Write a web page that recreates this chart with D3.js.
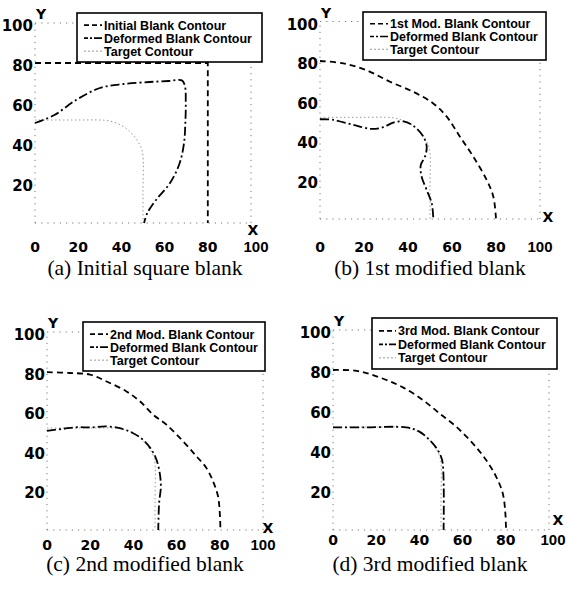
<!DOCTYPE html>
<html><head><meta charset="utf-8">
<script src="https://cdn.jsdelivr.net/npm/d3@7"></script>
<style>body{margin:0;background:#fff}svg{display:block}</style>
</head><body>
<svg id="chart" width="566" height="590"></svg>
<script>
// ---------- data ----------
const xTicks = [0, 20, 40, 60, 80, 100];
const yTicks = [20, 40, 60, 80, 100];

const targetX = [0, 10, 20, 30, 34, 38, 42, 45, 47.5, 49.2, 50, 50, 50];
const targetY = [51.5, 51.5, 51.5, 51.5, 51.1, 49.8, 47.5, 44.5, 41, 37.5, 33.5, 15, 0];

// (a) initial square blank
const blankAX = [0, 80, 80];
const blankAY = [80, 80, 0];
const defAX = [0, 9, 19, 30, 41, 53, 62, 68, 69.4, 69.8, 69.6, 69, 67, 62.5, 56, 52, 50.5];
const defAY = [50, 54, 61.5, 67.5, 69.5, 70.5, 71, 71.3, 68.5, 60, 50, 40, 30, 20, 11.5, 5, 0];

// (b) 1st modified blank
const blankBX = [0, 10.6, 21, 31.8, 42.4, 51.5, 57.6, 63.6, 69.7, 75.8, 78.8, 80];
const blankBY = [80, 78.8, 75.4, 69.5, 64.4, 58.5, 51.8, 41.7, 31.5, 19.7, 11.3, 0];
const defBX = [0, 6, 15, 23.5, 28.8, 33.3, 37.9, 42.4, 47, 48.5, 47.7, 45.8, 46.2, 48.5, 50.8, 51.5];
const defBY = [50.5, 50.2, 47.7, 45.6, 46.5, 48.8, 49.4, 47.2, 41.7, 36.6, 31.5, 27.3, 21.4, 14.7, 7.9, 0];

// (c) 2nd modified blank
const blankCX = [0, 10.6, 19.9, 27.6, 36.8, 43, 49.2, 55.3, 63, 69.2, 73.8, 76.9, 79.2, 80, 80.3];
const blankCY = [79.7, 79.3, 78.5, 75, 70, 65, 58.2, 53.2, 44.8, 37.2, 31.3, 24.5, 16.9, 8.4, 0];
const defCX = [0, 7.5, 13.7, 19.9, 27.6, 33.7, 39.9, 44.5, 48.4, 50.7, 52.2, 52.7, 51.9, 51.5];
const defCY = [50.1, 51.1, 51.9, 51.8, 52.3, 51.4, 48.9, 45.5, 40.5, 35.4, 28.7, 21.9, 13.5, 0];

// (d) 3rd modified blank
const blankDX = [0, 10, 17, 24.7, 32.4, 41.6, 49.3, 57, 64.7, 70.9, 75.5, 78.6, 79.8, 80.1];
const blankDY = [80, 79.7, 78, 75, 71.3, 65, 58.3, 51.7, 43.3, 35, 26.7, 18.3, 8.3, 0];
const defDX = [0, 15.4, 33.9, 40, 44.7, 48.5, 50.5, 51.2, 51.2];
const defDY = [51.3, 51.3, 51.3, 49.2, 45, 40, 35, 25, 0];

const legendA = ["Initial Blank Contour", "Deformed Blank Contour", "Target Contour"];
const legendB = ["1st Mod. Blank Contour", "Deformed Blank Contour", "Target Contour"];
const legendC = ["2nd Mod. Blank Contour", "Deformed Blank Contour", "Target Contour"];
const legendD = ["3rd Mod. Blank Contour", "Deformed Blank Contour", "Target Contour"];
const captions = ["(a) Initial square blank", "(b) 1st modified blank", "(c) 2nd modified blank", "(d) 3rd modified blank"];

// ---------- layout ----------
const panels = [
  {x0: 35, x1: 251, y0: 223, y1: 23, xlab: 29, hx: 5, X: {dx: 2, dy: 12},
   legend: {l: 77, t: 13, r: 262, b: 62, tx: 104},
   cap: {x: 145, y: 275}, blank: [blankAX, blankAY], def: [defAX, defAY], leg: legendA, cap_t: captions[0], straight: true},
  {x0: 320, x1: 540, y0: 219, y1: 21.5, xlab: 33, hx: 0, X: {dx: 8, dy: 3},
   legend: {l: 363, t: 12, r: 546, b: 60, tx: 390},
   cap: {x: 430, y: 275}, blank: [blankBX, blankBY], def: [defBX, defBY], leg: legendB, cap_t: captions[1]},
  {x0: 47, x1: 263, y0: 530, y1: 332, xlab: 20, hx: 0, X: {dx: 5, dy: 3},
   legend: {l: 83, t: 322, r: 265, b: 371, tx: 110},
   cap: {x: 145, y: 571}, blank: [blankCX, blankCY], def: [defCX, defCY], leg: legendC, cap_t: captions[2]},
  {x0: 333, x1: 549, y0: 530, y1: 330, xlab: 15, hx: 4, X: {dx: 9, dy: -5},
   legend: {l: 372, t: 318, r: 557, b: 369, tx: 398},
   cap: {x: 430, y: 571}, blank: [blankDX, blankDY], def: [defDX, defDY], leg: legendD, cap_t: captions[3]}
];

const svg = d3.select("#chart");
const tickFont = "'DejaVu Sans', sans-serif";
const narrowFont = "'Liberation Sans', Arial, sans-serif";
const legFont = "'Liberation Sans', Arial, sans-serif";
const dashBlank = "6,4";
const dashDef = "9,3,2,3";
const dotTarget = "1.5,2.5";

panels.forEach(p => {
  const g = svg.append("g");
  const x = d3.scaleLinear().domain([0, 100]).range([p.x0, p.x1]);
  const y = d3.scaleLinear().domain([0, 100]).range([p.y0, p.y1]);

  // dotted frame
  const frame = [[0,0,100,0],[0,100,100,100],[0,0,0,100],[100,0,100,100]];
  g.selectAll("line.frame").data(frame).join("line")
    .attr("x1", d => x(d[0])).attr("y1", d => y(d[1]))
    .attr("x2", d => x(d[2])).attr("y2", d => y(d[3]))
    .attr("stroke", "#777").attr("stroke-width", 1).attr("stroke-dasharray", "1.2,5");

  // x tick labels (the "100" label is narrower, as in the source)
  g.selectAll("text.xt").data(xTicks).join("text")
    .attr("x", d => x(d) + (d === 100 ? p.hx : 0)).attr("y", p.y0 + p.xlab)
    .attr("text-anchor", "middle")
    .attr("font-family", d => d === 100 ? narrowFont : tickFont).attr("font-weight", "bold")
    .attr("font-size", d => d === 100 ? 15 : 14)
    .text(d => d);
  // y tick labels
  g.selectAll("text.yt").data(yTicks).join("text")
    .attr("x", p.x0 - 2).attr("y", d => y(d) + 8)
    .attr("text-anchor", "end").attr("font-family", tickFont).attr("font-weight", "bold")
    .attr("font-size", 15).text(d => d);
  // axis letters
  g.append("text").attr("x", p.x0 + 1).attr("y", y(100) - 4)
    .attr("font-family", tickFont).attr("font-weight", "bold").attr("font-size", 14).text("Y");
  g.append("text").attr("x", x(100) + p.X.dx).attr("y", p.y0 + p.X.dy).attr("text-anchor", "middle")
    .attr("font-family", tickFont).attr("font-weight", "bold").attr("font-size", 14).text("X");

  const line = d3.line().x(d => x(d[0])).y(d => y(d[1]));
  const smooth = d3.line().x(d => x(d[0])).y(d => y(d[1])).curve(d3.curveCatmullRom.alpha(0.5));
  const pts = (xs, ys) => xs.map((v, i) => [v, ys[i]]);

  // target
  g.append("path").attr("d", smooth(pts(targetX, targetY)))
    .attr("fill", "none").attr("stroke", "#999").attr("stroke-width", 1).attr("stroke-dasharray", dotTarget);
  // blank contour
  g.append("path").attr("d", (p.straight ? line : smooth)(pts(p.blank[0], p.blank[1])))
    .attr("fill", "none").attr("stroke", "#000").attr("stroke-width", 1.8).attr("stroke-dasharray", dashBlank);
  // deformed contour
  g.append("path").attr("d", smooth(pts(p.def[0], p.def[1])))
    .attr("fill", "none").attr("stroke", "#000").attr("stroke-width", 1.8).attr("stroke-dasharray", dashDef);

  // legend
  const L = p.legend;
  g.append("rect").attr("x", L.l).attr("y", L.t).attr("width", L.r - L.l).attr("height", L.b - L.t)
    .attr("fill", "#fff").attr("stroke", "#000").attr("stroke-width", 1.6);
  const styles = [
    {dash: "5,3", w: 1.6, c: "#000"},
    {dash: "4,2,2,2,8", w: 1.6, c: "#000"},
    {dash: "2,2", w: 1, c: "#999"}
  ];
  const h = L.b - L.t;
  p.leg.forEach((t, i) => {
    const base = L.t + h * (0.34 + 0.265 * i);
    g.append("line").attr("x1", L.l + 7).attr("x2", L.tx - 2).attr("y1", base - 4.5).attr("y2", base - 4.5)
      .attr("stroke", styles[i].c).attr("stroke-width", styles[i].w).attr("stroke-dasharray", styles[i].dash);
    g.append("text").attr("x", L.tx).attr("y", base)
      .attr("font-family", legFont).attr("font-weight", "bold").attr("font-size", 12.5).text(t);
  });

  // caption
  g.append("text").attr("x", p.cap.x).attr("y", p.cap.y).attr("text-anchor", "middle")
    .attr("font-family", "'Liberation Serif', 'Times New Roman', serif").attr("font-size", 21.5).text(p.cap_t);
});
</script>
</body></html>
